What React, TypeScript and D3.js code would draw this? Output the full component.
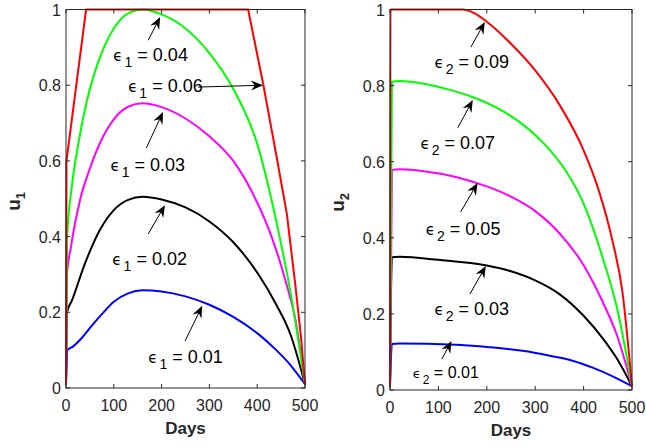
import React from 'react';
import * as d3 from 'd3';

type Pt = [number, number];

// tick values
const xTicks = [0, 100, 200, 300, 400, 500];
const yTicks = [0, 0.2, 0.4, 0.6, 0.8, 1];
const yTickLabels = ['0', '0.2', '0.4', '0.6', '0.8', '1'];

// u1 control for different epsilon_1
const u1Eps001: Pt[] = [[0, 0.01], [3, 0.1], [15, 0.11], [30, 0.128], [51, 0.16], [75, 0.195], [100, 0.228], [130, 0.25], [160, 0.258], [200, 0.255], [250, 0.242], [300, 0.22], [350, 0.188], [400, 0.145], [440, 0.1], [470, 0.06], [500, 0.01]];
const u1Eps002: Pt[] = [[0, 0.01], [2, 0.2], [12, 0.23], [40, 0.33], [72, 0.42], [100, 0.47], [130, 0.497], [160, 0.505], [200, 0.498], [250, 0.477], [300, 0.44], [350, 0.385], [400, 0.305], [440, 0.22], [470, 0.14], [500, 0.01]];
const u1Eps003: Pt[] = [[0, 0.01], [2, 0.3], [10, 0.37], [30, 0.5], [50, 0.58], [72, 0.65], [100, 0.71], [130, 0.743], [160, 0.752], [200, 0.742], [250, 0.712], [300, 0.665], [350, 0.6], [400, 0.49], [430, 0.4], [460, 0.28], [480, 0.18], [500, 0.01]];
const u1Eps004: Pt[] = [[0, 0.01], [2, 0.39], [12, 0.53], [25, 0.64], [44, 0.76], [70, 0.87], [100, 0.95], [130, 0.99], [160, 1.0], [200, 0.987], [250, 0.95], [300, 0.885], [350, 0.79], [400, 0.645], [440, 0.44], [470, 0.25], [500, 0.01]];
const u1Eps006: Pt[] = [[0, 0.01], [1, 0.6], [42, 1], [381, 1], [413, 0.8], [440, 0.615], [462, 0.46], [480, 0.27], [492, 0.13], [500, 0.01]];

// u2 control for different epsilon_2
const u2Eps001: Pt[] = [[0, 0.01], [4, 0.121], [20, 0.122], [136, 0.119], [200, 0.113], [274, 0.103], [330, 0.09], [377, 0.077], [420, 0.058], [460, 0.036], [500, 0.01]];
const u2Eps003: Pt[] = [[0, 0.01], [4, 0.349], [20, 0.35], [100, 0.342], [200, 0.327], [250, 0.312], [300, 0.288], [350, 0.252], [400, 0.195], [440, 0.135], [470, 0.08], [500, 0.01]];
const u2Eps005: Pt[] = [[0, 0.01], [4, 0.578], [20, 0.58], [70, 0.575], [136, 0.56], [200, 0.535], [250, 0.508], [300, 0.47], [350, 0.412], [400, 0.328], [440, 0.23], [470, 0.14], [500, 0.01]];
const u2Eps007: Pt[] = [[0, 0.01], [4, 0.81], [20, 0.812], [70, 0.805], [120, 0.79], [170, 0.77], [220, 0.742], [270, 0.702], [320, 0.645], [360, 0.582], [400, 0.49], [440, 0.345], [470, 0.21], [500, 0.01]];
const u2Eps009: Pt[] = [[0, 0.01], [1, 1], [150, 1], [175, 0.99], [200, 0.968], [250, 0.91], [300, 0.84], [350, 0.75], [400, 0.63], [430, 0.53], [460, 0.39], [480, 0.26], [500, 0.01]];

const u1Labels = ['0.01', '0.02', '0.03', '0.04', '0.06'];
const u2Labels = ['0.01', '0.03', '0.05', '0.07', '0.09'];

// annotation placement in data units: [textT, textU, tailT, tailU, headT, headU]
const u1Notes: number[][] = [
  [172, 0.082, 249, 0.124, 285, 0.217],
  [97, 0.341, 172, 0.407, 207, 0.483],
  [93, 0.589, 168, 0.634, 203, 0.729],
  [99, 0.88, 172, 0.919, 197, 0.98],
  [130, 0.798, 276, 0.795, 412, 0.8],
];
const u2Notes: number[][] = [
  [47, 0.047, 107, 0.081, 127, 0.129],
  [92, 0.213, 165, 0.252, 198, 0.326],
  [74, 0.423, 146, 0.468, 181, 0.544],
  [63, 0.649, 140, 0.689, 171, 0.762],
  [92, 0.862, 167, 0.901, 196, 0.967],
];

const colors = ['#0000ff', '#000000', '#ff00ff', '#00ff00', '#ff0000'];
const axisColor = '#262626';
const font = '"Liberation Sans", Arial, Helvetica, sans-serif';

function Arrow({ x1, y1, x2, y2 }: { x1: number; y1: number; x2: number; y2: number }) {
  const a = Math.atan2(y2 - y1, x2 - x1);
  const L = 12, W = 5, back = 8;
  const p = (d: number, w: number) => [x2 - d * Math.cos(a) - w * Math.sin(a), y2 - d * Math.sin(a) + w * Math.cos(a)];
  const pts = [[x2, y2], p(L, W), p(back, 0), p(L, -W)];
  const e = p(back, 0);
  return (
    <g>
      <line x1={x1} y1={y1} x2={e[0]} y2={e[1]} stroke="#000" strokeWidth={1} />
      <polygon points={pts.map((q) => q.join(',')).join(' ')} fill="#000" />
    </g>
  );
}

function Panel({ left, right, top, bottom, series, labels, notes, sub, small }: any) {
  const x = d3.scaleLinear().domain([0, 500]).range([left, right]);
  const y = d3.scaleLinear().domain([0, 1]).range([bottom, top]);
  const mono = d3.line<Pt>().x((d) => x(d[0])).y((d) => y(d[1])).curve(d3.curveMonotoneX);
  const lin = d3.line<Pt>().x((d) => x(d[0])).y((d) => y(d[1]));
  const tk = 4;
  return (
    <g fontFamily={font}>
      {series.map((s: Pt[], i: number) => (
        <path key={i} d={(i === 4 && sub === '1' ? lin : mono)(s) || ''} fill="none" stroke={colors[i]} strokeWidth={2} />
      ))}
      <rect x={left} y={top} width={right - left} height={bottom - top} fill="none" stroke={axisColor} strokeWidth={1} />
      {xTicks.map((t) => (
        <g key={'x' + t}>
          <line x1={x(t)} x2={x(t)} y1={bottom} y2={bottom - tk} stroke={axisColor} />
          <line x1={x(t)} x2={x(t)} y1={top} y2={top + tk} stroke={axisColor} />
          <text x={x(t)} y={bottom + 23} textAnchor="middle" fontSize={16} fill={axisColor}>{t}</text>
        </g>
      ))}
      {yTicks.map((t, i) => (
        <g key={'y' + t}>
          <line x1={left} x2={left + tk} y1={y(t)} y2={y(t)} stroke={axisColor} />
          <line x1={right} x2={right - tk} y1={y(t)} y2={y(t)} stroke={axisColor} />
          <text x={left - 5} y={y(t) + 6} textAnchor="end" fontSize={16} fill={axisColor}>{yTickLabels[i]}</text>
        </g>
      ))}
      <text x={(left + right) / 2} y={bottom + 46} textAnchor="middle" fontSize={17} fontWeight="bold" fill={axisColor}>Days</text>
      <text transform={`translate(${left - 46},${(top + bottom) / 2 + 12}) rotate(-90)`} fontSize={19} fontWeight="bold" fill={axisColor}>
        u<tspan fontSize={13} dy={5}>{sub}</tspan>
      </text>
      {notes.map((n: number[], i: number) => {
        const fs = small && i === 0 ? 16 : 18;
        return (
          <g key={'n' + i}>
            <Arrow x1={x(n[2])} y1={y(n[3])} x2={x(n[4])} y2={y(n[5])} />
            <text x={x(n[0])} y={y(n[1]) + 6} fontSize={fs} fill="#000">
              <tspan fontFamily='"DejaVu Sans", sans-serif' fontSize={fs - 3}>ϵ</tspan>
              <tspan fontSize={fs - 4} dx={2} dy={6}>{sub}</tspan>
              <tspan dy={-6}> = {labels[i]}</tspan>
            </text>
          </g>
        );
      })}
    </g>
  );
}

export default function App() {
  return (
    <svg width={646} height={447} style={{ position: 'absolute', left: 0, top: 0, background: '#fff' }}>
      <Panel left={66} right={305} top={9.5} bottom={388} series={[u1Eps001, u1Eps002, u1Eps003, u1Eps004, u1Eps006]} labels={u1Labels} notes={u1Notes} sub="1" />
      <Panel left={390} right={632} top={9.5} bottom={390} series={[u2Eps001, u2Eps003, u2Eps005, u2Eps007, u2Eps009]} labels={u2Labels} notes={u2Notes} sub="2" small />
    </svg>
  );
}
